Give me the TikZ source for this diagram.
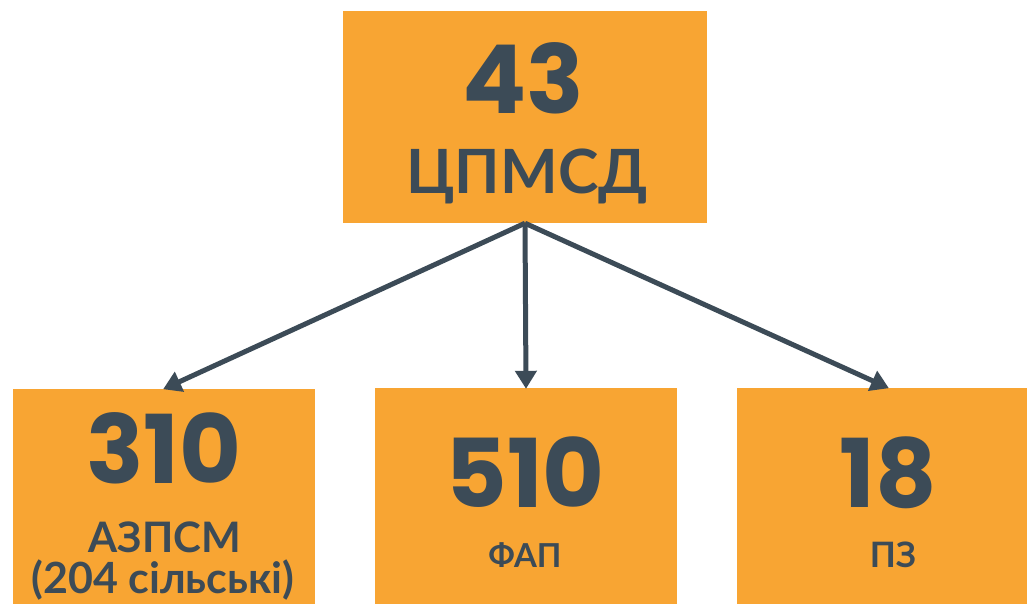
\documentclass[tikz,border=0pt]{standalone}
\usepackage{fontspec}
\setmainfont{Lato}
\newfontfamily\numfont{Poppins}
\usetikzlibrary{arrows.meta}
\definecolor{boxorange}{HTML}{F8A533}
\definecolor{ink}{HTML}{3C4B57}
\tikzset{
  box/.style={fill=boxorange, draw=none, inner sep=0pt, rectangle},
  conn/.style={draw=ink, line width=5pt, -{Triangle[length=18pt,width=21pt]}, shorten >=-1pt},
  txt/.style={text=ink, anchor=base, inner sep=0pt, font=\bfseries},
  big/.style={txt, font=\numfont\bfseries\fontsize{95}{95}\selectfont},
}
\begin{document}
\begin{tikzpicture}[x=1pt,y=-1pt]
\clip (0,0) rectangle (1027,603);
\fill[white] (0,0) rectangle (1027,603);
% boxes
\node[box, minimum width=364pt, minimum height=212pt] (top) at (525,117) {};
\node[box, minimum width=302pt, minimum height=230pt] (left) at (164,504) {};
\node[box, minimum width=302pt, minimum height=230pt] (mid) at (526,503) {};
\node[box, minimum width=302pt, minimum height=230pt] (right) at (888,503) {};
% texts
\node[big] (t43) at (523,113) {43};
\node[txt, font=\bfseries\fontsize{61}{61}\selectfont] (tc) at (527,193) {ЦПМСД};
\node[big] (t310) at (164,483) {310};
\node[txt, font=\bfseries\fontsize{42}{42}\selectfont] (ta) at (165,552) {АЗПСМ};
\node[txt, font=\bfseries\fontsize{43}{43}\selectfont] (ts) at (163,593) {(204 сільські)};
\node[big] (t510) at (525,507) {510};
\node[txt, font=\bfseries\fontsize{33}{33}\selectfont] (tf) at (525,567) {ФАП};
\node[big] (t18) at (888,507) {18};
\node[txt, font=\bfseries\fontsize{35}{35}\selectfont] (tp) at (893,567) {ПЗ};
% connectors
\draw[conn] (top.south) -- (left.north);
\draw[conn] (top.south) -- (mid.north);
\draw[conn] (top.south) -- (right.north);
\end{tikzpicture}
\end{document}
